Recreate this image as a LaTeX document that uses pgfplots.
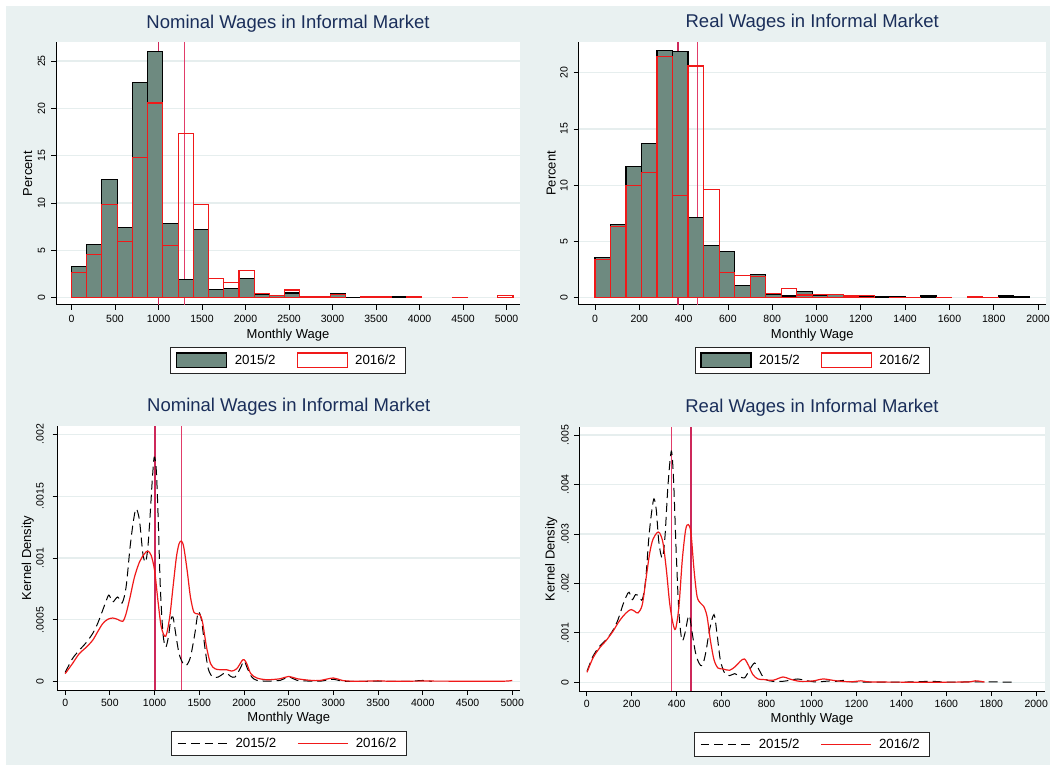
\documentclass[border=0pt]{standalone}
\usepackage{pgfplots}
\pgfplotsset{compat=1.18}
\usepackage{fontspec}
\setmainfont{Liberation Sans}
\definecolor{bg}{RGB}{233,241,241}
\definecolor{gridc}{RGB}{230,238,238}
\definecolor{histgray}{RGB}{110,138,128}
\definecolor{titlec}{RGB}{26,46,90}
\definecolor{lineA}{RGB}{205,40,90}
\definecolor{lineB}{RGB}{225,60,105}
\definecolor{hred}{RGB}{240,25,25}
\pgfplotsset{
 stata/.style={
  scale only axis,
  axis x line*=bottom, axis y line*=left,
  axis line style={black, line width=1pt},
  tick align=outside, major tick length=5pt,
  tick style={black, line width=0.8pt},
  ymajorgrids, grid style={gridc, line width=1.2pt},
  axis background/.style={fill=white},
  xticklabel style={font=\fontsize{10.5}{12}\selectfont, anchor=north, inner sep=0pt},
  yticklabel style={font=\fontsize{10.5}{12}\selectfont, rotate=90, anchor=south, inner sep=0pt},
  title style={font=\fontsize{18.5}{22}\selectfont, color=titlec, anchor=base},
  every axis x label/.style={anchor=base, font=\fontsize{13}{15}\selectfont},
  every axis y label/.style={rotate=90, anchor=base, font=\fontsize{13}{15}\selectfont},
  legend columns=2,
  legend cell align=left,
  legend style={draw=black!85, line width=0.8pt, fill=white, anchor=north,
    inner xsep=5.5pt, inner ysep=5pt,
    nodes={inner xsep=4pt, inner ysep=0pt},
    font=\fontsize{13.3}{15}\selectfont,
    /tikz/every even column/.append style={column sep=17pt}},
  scaled ticks=false,
  /pgf/number format/assume math mode=true,
 },
 vA/.style={draw=lineA, color=lineA, line width=#1, forget plot},
 vB/.style={draw=lineB, color=lineB, line width=#1, forget plot},
 histleg/.style={legend image code/.code={\path[draw=none,fill=none] (0pt,-7.2pt) rectangle (54pt,7.2pt); \draw[##1] (0pt,-7.2pt) rectangle (50pt,7.2pt);}},
 lineleg/.style={legend image code/.code={\path[draw=none,fill=none] (0pt,-7.2pt) rectangle (54pt,7.2pt); \draw[##1] (0pt,0pt) -- (50pt,0pt);}},
}
\begin{document}
\begin{tikzpicture}[x=1pt,y=1pt]
\fill[white] (0pt,0pt) rectangle (1054pt,769pt);
\fill[bg] (6pt,4pt) rectangle (1050pt,763pt);

% ---------------- Top left: nominal histogram
\begin{axis}[stata, at={(56pt,464pt)}, anchor=south west, width=464pt, height=262.7pt,
  xmin=-178, xmax=5155, ymin=-0.77, ymax=26.98,
  xtick={0,500,1000,1500,2000,2500,3000,3500,4000,4500,5000},
  xticklabels={0,500,1000,1500,2000,2500,3000,3500,4000,4500,5000},
  ytick={0,5,10,15,20,25}, yticklabels={0,5,10,15,20,25},
  xticklabel shift=5pt, yticklabel shift=5.5pt,
  title={Nominal Wages in Informal Market}, title style={at={(0.5,1.0305)}},
  xlabel={Monthly Wage}, xlabel style={at={(0.5,-0.1268)}},
  ylabel={Percent}, ylabel style={at={(-0.0517,0.5)}},
  legend style={at={(0.5,-0.16)}}]
\addplot[vA=1.4pt] coordinates {(1000,-0.77) (1000,26.98)};
\addplot[vB=1.4pt] coordinates {(1300,-0.77) (1300,26.98)};
\addplot[ybar, bar width=175, bar shift=0pt, fill=histgray, draw=black, line width=1.1pt, forget plot] coordinates {
(87.5,3.34) (262.5,5.63) (437.5,12.45) (612.5,7.45) (787.5,22.7) (962.5,26.05) (1137.5,7.84) (1312.5,1.93) (1487.5,7.24) (1662.5,0.88) (1837.5,0.98) (2012.5,2.04) (2187.5,0.3) (2362.5,0.2) (2537.5,0.5) (2712.5,0.1) (2887.5,0.1) (3062.5,0.4) (3237.5,0.05) (3412.5,0.03) (3587.5,0.05) (3762.5,0.07) (3937.5,0.03)};
\addplot[ybar, bar width=175, bar shift=0pt, fill=none, draw=hred, line width=1.1pt, forget plot] coordinates {
(87.5,2.64) (262.5,4.6) (437.5,9.85) (612.5,5.94) (787.5,14.77) (962.5,20.57) (1137.5,5.49) (1312.5,17.33) (1487.5,9.85) (1662.5,2.04) (1837.5,1.58) (2012.5,2.85) (2187.5,0.42) (2362.5,0.25) (2537.5,0.81) (2712.5,0.1) (2887.5,0.14) (3062.5,0.35) (3412.5,0.07) (3587.5,0.15) (3937.5,0.1) (4462.5,0.05) (4987.5,0.2)};
\addlegendimage{histleg, fill=histgray, draw=black, line width=1.3pt}
\addlegendentry{2015/2}
\addlegendimage{histleg, fill=white, draw=hred, line width=1.3pt}
\addlegendentry{2016/2}
\end{axis}

% ---------------- Top right: real histogram
\begin{axis}[stata, at={(578.5pt,464pt)}, anchor=south west, width=467.5pt, height=263.3pt,
  xmin=-74.5, xmax=2036, ymin=-0.65, ymax=22.76,
  xtick={0,200,400,600,800,1000,1200,1400,1600,1800,2000},
  xticklabels={0,200,400,600,800,1000,1200,1400,1600,1800,2000},
  ytick={0,5,10,15,20}, yticklabels={0,5,10,15,20},
  xticklabel shift=5pt, yticklabel shift=5.5pt,
  title={Real Wages in Informal Market}, title style={at={(0.5,1.0319)}},
  xlabel={Monthly Wage}, xlabel style={at={(0.5,-0.1265)}},
  ylabel={Percent}, ylabel style={at={(-0.0492,0.5)}},
  legend style={at={(0.5,-0.1595)}}]
\addplot[vA=1.6pt] coordinates {(376,-0.65) (376,22.76)};
\addplot[vB=1.6pt] coordinates {(462,-0.65) (462,22.76)};
\addplot[ybar, bar width=70, bar shift=0pt, fill=histgray, draw=black, line width=1.1pt, forget plot] coordinates {
(35,3.58) (105,6.54) (175,11.7) (245,13.67) (315,21.98) (385,21.92) (455,7.16) (525,4.6) (595,4.08) (665,1.12) (735,2.07) (805,0.3) (875,0.15) (945,0.53) (1015,0.24) (1085,0.27) (1155,0.2) (1225,0.1) (1295,0.06) (1365,0.12) (1435,0.05) (1505,0.15) (1575,0.03) (1855,0.15) (1925,0.07)};
\addplot[ybar, bar width=70, bar shift=0pt, fill=none, draw=hred, line width=1.1pt, forget plot] coordinates {
(35,3.43) (105,6.3) (175,9.94) (245,11.15) (315,21.45) (385,9.08) (455,20.6) (525,9.64) (595,2.25) (665,2.01) (735,1.92) (805,0.38) (875,0.83) (945,0.24) (1015,0.27) (1085,0.3) (1155,0.15) (1225,0.18) (1365,0.05) (1435,0.05) (1575,0.05) (1715,0.12) (1785,0.05)};
\addlegendimage{histleg, fill=histgray, draw=black, line width=1.3pt}
\addlegendentry{2015/2}
\addlegendimage{histleg, fill=white, draw=hred, line width=1.3pt}
\addlegendentry{2016/2}
\end{axis}

% ---------------- Bottom left: nominal density
\begin{axis}[stata, at={(57.5pt,79pt)}, anchor=south west, width=462.5pt, height=264.3pt,
  xmin=-86, xmax=5087, ymin=-0.0000671, ymax=0.00207,
  xtick={0,500,1000,1500,2000,2500,3000,3500,4000,4500,5000},
  xticklabels={0,500,1000,1500,2000,2500,3000,3500,4000,4500,5000},
  ytick={0,0.0005,0.001,0.0015,0.002}, yticklabels={0,.0005,.001,.0015,.002},
  xticklabel shift=4.3pt, yticklabel shift=8.5pt,
  title={Nominal Wages in Informal Market}, title style={at={(0.5,1.0318)}},
  xlabel={Monthly Wage}, xlabel style={at={(0.5,-0.1173)}},
  ylabel={Kernel Density}, ylabel style={at={(-0.0571,0.5)}},
  legend style={at={(0.5,-0.155)}}]
\addplot[vA=2pt] coordinates {(1000,-0.0000671) (1000,0.00207)};
\addplot[vB=1.5pt] coordinates {(1300,-0.0000671) (1300,0.00207)};
\addplot[black, line width=1pt, dash pattern=on 9pt off 5pt, smooth, tension=0.5, forget plot] coordinates {
(0,0.000075) (81,0.000186) (156,0.000253) (231,0.000313) (306,0.000388) (362,0.000469) (419,0.000577) (475,0.000685) (494,0.000698) (531,0.000644) (587,0.000685) (636,0.000636) (681,0.000765) (726,0.001089) (764,0.001304) (794,0.001399) (831,0.001304) (869,0.001035) (899,0.000968) (925,0.001089) (951,0.001358) (974,0.001628) (996,0.001816) (1019,0.001709) (1041,0.001304) (1064,0.000765) (1094,0.000388) (1124,0.00028) (1154,0.000361) (1180,0.000496) (1206,0.000523) (1236,0.000388) (1274,0.000226) (1319,0.000146) (1356,0.000132) (1401,0.000199) (1450,0.000388) (1488,0.000563) (1525,0.000496) (1562,0.00028) (1600,0.000105) (1649,0.000038) (1712,0.000038) (1769,0.000065) (1806,0.00007) (1851,0.000043) (1900,0.000038) (1956,0.000105) (2001,0.000167) (2039,0.000105) (2087,0.000038) (2144,0.000011) (2256,0.000005) (2406,0.000011) (2500,0.000038) (2594,0.000011) (2744,0.000005) (2850,0.000004) (3000,0.00002) (3100,0.000004) (3300,0.000002) (3500,0.000005) (3700,0.000002) (3850,0.000003) (4000,0.00001) (4100,0.000002)};
\addplot[hred, line width=1.2pt, smooth, tension=0.5, forget plot] coordinates {
(0,0.000065) (81,0.000146) (156,0.000226) (231,0.000275) (306,0.000334) (362,0.000402) (419,0.000469) (475,0.000504) (531,0.000515) (587,0.000504) (644,0.000488) (681,0.00055) (726,0.000685) (775,0.000846) (831,0.000968) (887,0.001035) (925,0.001056) (962,0.001021) (1000,0.0009) (1037,0.000658) (1075,0.000442) (1124,0.000367) (1169,0.000523) (1206,0.000765) (1244,0.001008) (1274,0.001116) (1300,0.001137) (1326,0.001089) (1364,0.0009) (1401,0.000685) (1439,0.000563) (1476,0.00055) (1506,0.000542) (1536,0.000482) (1581,0.00028) (1626,0.000146) (1675,0.000105) (1731,0.000097) (1806,0.000097) (1862,0.000086) (1919,0.000105) (1975,0.000167) (2001,0.000178) (2031,0.000146) (2076,0.000065) (2144,0.00003) (2256,0.000016) (2406,0.000024) (2500,0.000043) (2594,0.000024) (2744,0.000011) (2850,0.00001) (3000,0.00003) (3100,0.00001) (3250,0.000003) (3500,0.000007) (3650,0.000003) (4000,0.000005) (4500,0.000004) (4900,0.000004) (5000,0.00001)};
\addlegendimage{lineleg, black, line width=1pt, dash pattern=on 8.5pt off 5pt}
\addlegendentry{2015/2}
\addlegendimage{lineleg, hred, line width=1.2pt}
\addlegendentry{2016/2}
\end{axis}

% ---------------- Bottom right: real density
\begin{axis}[stata, at={(579pt,78pt)}, anchor=south west, width=466pt, height=264.3pt,
  xmin=-34.7, xmax=2039, ymin=-0.000176, ymax=0.005168,
  xtick={0,200,400,600,800,1000,1200,1400,1600,1800,2000},
  xticklabels={0,200,400,600,800,1000,1200,1400,1600,1800,2000},
  ytick={0,0.001,0.002,0.003,0.004,0.005}, yticklabels={0,.001,.002,.003,.004,.005},
  xticklabel shift=4pt, yticklabel shift=5pt,
  title={Real Wages in Informal Market}, title style={at={(0.5,1.0318)}},
  xlabel={Monthly Wage}, xlabel style={at={(0.5,-0.1184)}},
  ylabel={Kernel Density}, ylabel style={at={(-0.0521,0.5)}},
  legend style={at={(0.5,-0.154)}}]
\addplot[vB=1.5pt] coordinates {(376,-0.000176) (376,0.005168)};
\addplot[vA=2pt] coordinates {(462,-0.000176) (462,0.005168)};
\addplot[black, line width=1pt, dash pattern=on 9pt off 5pt, smooth, tension=0.5, forget plot] coordinates {
(1,0.000223) (27.5,0.000526) (57,0.000728) (87,0.000863) (116.5,0.001052) (139,0.001268) (161,0.001571) (176,0.00174) (188,0.001821) (202.5,0.001672) (217,0.001773) (232,0.00174) (247,0.001672) (262,0.002077) (276.6,0.002953) (290,0.003493) (299,0.003709) (309,0.003493) (321,0.002819) (336,0.002515) (348,0.002953) (361,0.003965) (376,0.004673) (386,0.0041) (398,0.002616) (410,0.001403) (423.5,0.00085) (437,0.000998) (450,0.001301) (457.6,0.001335) (469,0.000998) (484,0.000593) (499,0.000391) (514,0.000337) (529,0.000593) (546.5,0.001065) (566,0.001369) (579,0.000998) (594,0.000458) (613,0.000189) (635.5,0.000135) (658,0.000175) (680,0.000121) (702,0.000088) (724.5,0.000256) (747,0.000391) (766,0.000256) (791,0.000067) (828,0.00002) (873,0.00002) (902,0.00004) (939.5,0.000067) (977,0.000034) (1021,0.000007) (1080,0.000027) (1110,0.00002) (1145,0.00004) (1180,0.00001) (1300,0.000004) (1400,0.000003) (1540,0.00002) (1600,0.000003) (1750,0.00001) (1850,0.000005) (1910,0.000004)};
\addplot[hred, line width=1.2pt, smooth, tension=0.5, forget plot] coordinates {
(1,0.000202) (27.5,0.000492) (57,0.000695) (87,0.00085) (116.5,0.001032) (139,0.0012) (161,0.001335) (183,0.001436) (198,0.00147) (213,0.001436) (228,0.001403) (247,0.001571) (265,0.002144) (280,0.002616) (294,0.002886) (312,0.003021) (324,0.003021) (339,0.002819) (354,0.002279) (368.6,0.001605) (383,0.0012) (395,0.001079) (410,0.001537) (425,0.002481) (440,0.003088) (452,0.003189) (463.5,0.003021) (477,0.002279) (490.5,0.00174) (505,0.001605) (520,0.001537) (535,0.001335) (549.5,0.000863) (566,0.000458) (583.6,0.00029) (606,0.00027) (635.5,0.000243) (662,0.000324) (683,0.000425) (702,0.000472) (721.5,0.000324) (739,0.000155) (761.6,0.000067) (791,0.000054) (828,0.00004) (873,0.000108) (902,0.000067) (947,0.00002) (1006,0.000027) (1051,0.000067) (1095,0.00004) (1132,0.00002) (1180,0.00001) (1220,0.00003) (1260,0.000008) (1400,0.000003) (1600,0.000003) (1700,0.000008) (1730,0.00003) (1770,0.000005)};
\addlegendimage{lineleg, black, line width=1pt, dash pattern=on 8.5pt off 5pt}
\addlegendentry{2015/2}
\addlegendimage{lineleg, hred, line width=1.2pt}
\addlegendentry{2016/2}
\end{axis}
\pgfresetboundingbox
\useasboundingbox (0pt,0pt) rectangle (1054pt,769pt);
\end{tikzpicture}
\end{document}
